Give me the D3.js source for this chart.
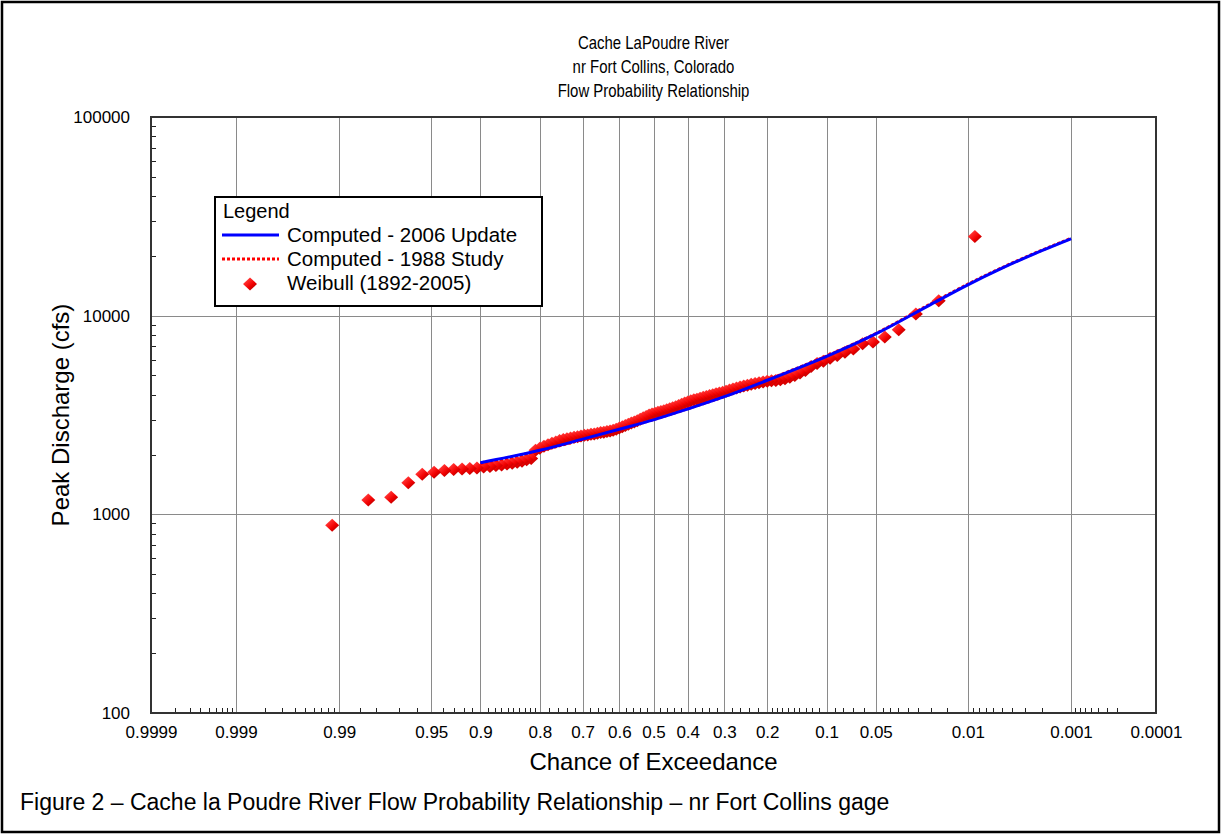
<!DOCTYPE html>
<html>
<head>
<meta charset="utf-8">
<script src="https://cdn.jsdelivr.net/npm/d3@7"></script>
<style>
  html, body { margin: 0; padding: 0; background: #fff; }
  svg { display: block; font-family: "Liberation Sans", Arial, sans-serif; }
</style>
</head>
<body>
<svg id="chart" width="1225" height="835"></svg>
<script>
// ---- data -------------------------------------------------------------
const titleLines = ["Cache LaPoudre River", "nr Fort Collins, Colorado", "Flow Probability Relationship"];
const caption = "Figure 2 \u2013 Cache la Poudre River Flow Probability Relationship \u2013 nr Fort Collins gage";

// chance-of-exceedance axis (normal probability paper)
const majorP = [0.9999, 0.999, 0.99, 0.95, 0.9, 0.8, 0.7, 0.6, 0.5, 0.4, 0.3, 0.2, 0.1, 0.05, 0.01, 0.001, 0.0001];
const majorLabels = ["0.9999", "0.999", "0.99", "0.95", "0.9", "0.8", "0.7", "0.6", "0.5", "0.4", "0.3", "0.2", "0.1", "0.05", "0.01", "0.001", "0.0001"];
const minorP = [
  0.9998, 0.9997, 0.9996, 0.9995, 0.9994, 0.9993, 0.9992, 0.9991,
  0.998, 0.997, 0.996, 0.995, 0.994, 0.993, 0.992, 0.991,
  0.985, 0.98, 0.97, 0.96,
  0.94, 0.93, 0.92, 0.91,
  0.89, 0.88, 0.87, 0.86, 0.85, 0.84, 0.83, 0.82, 0.81,
  0.78, 0.76, 0.74, 0.72, 0.68, 0.66, 0.64, 0.62, 0.58, 0.56, 0.54, 0.52,
  0.48, 0.46, 0.44, 0.42, 0.38, 0.36, 0.34, 0.32, 0.28, 0.26, 0.24, 0.22,
  0.19, 0.18, 0.17, 0.16, 0.15, 0.14, 0.13, 0.12, 0.11,
  0.09, 0.08, 0.07, 0.06,
  0.045, 0.04, 0.035, 0.03, 0.025, 0.02, 0.015,
  0.009, 0.008, 0.007, 0.006, 0.005, 0.004, 0.003, 0.002,
  0.0009, 0.0008, 0.0007, 0.0006, 0.0005, 0.0004, 0.0003
];

// peak discharge axis (cfs)
const yTicks = [100, 1000, 10000, 100000];
const yGrid = [1000, 10000];
const yMinor = [200, 300, 400, 500, 600, 700, 800, 900,
                2000, 3000, 4000, 5000, 6000, 7000, 8000, 9000,
                20000, 30000, 40000, 50000, 60000, 70000, 80000, 90000];

// computed frequency curves
const curveP = [0.9, 0.8, 0.7, 0.6, 0.5, 0.4, 0.3, 0.2, 0.1, 0.05, 0.02, 0.01, 0.005, 0.002, 0.001];
const update2006 = [1820, 2100, 2390, 2680, 2990, 3390, 3910, 4730, 6240, 8090, 11400, 14300, 17300, 21300, 24400];
const study1988 = [1800, 2090, 2380, 2680, 3000, 3400, 3920, 4750, 6270, 8130, 11500, 14400, 17400, 21400, 24500];

// annual peaks 1892-2005, ranked largest to smallest
const annualPeaks = [
  25000, 11900, 10200, 8500, 7800, 7360, 7230, 6800, 6550, 6300,
  6100, 5900, 5750, 5550, 5300, 5150, 5000, 4900, 4820, 4760,
  4720, 4700, 4680, 4640, 4600, 4560, 4520, 4470, 4420, 4370,
  4320, 4270, 4220, 4170, 4120, 4080, 4040, 4000, 3960, 3920,
  3880, 3840, 3800, 3770, 3730, 3680, 3630, 3580, 3530, 3480,
  3440, 3400, 3360, 3320, 3290, 3260, 3230, 3200, 3160, 3110,
  3060, 3010, 2960, 2920, 2880, 2840, 2800, 2760, 2720, 2680,
  2650, 2630, 2610, 2590, 2580, 2560, 2540, 2530, 2510, 2500,
  2480, 2460, 2440, 2420, 2400, 2380, 2350, 2310, 2280, 2240,
  2200, 2150, 2100, 1910, 1880, 1850, 1830, 1810, 1790, 1770,
  1760, 1740, 1730, 1710, 1700, 1690, 1680, 1660, 1630, 1590,
  1440, 1220, 1180, 880
];

const legendItems = ["Computed - 2006 Update", "Computed - 1988 Study", "Weibull (1892-2005)"];

// ---- helpers ----------------------------------------------------------
// inverse standard normal CDF (Acklam)
function probit(p) {
  const a = [-3.969683028665376e+01, 2.209460984245205e+02, -2.759285104469687e+02, 1.383577518672690e+02, -3.066479806614716e+01, 2.506628277459239e+00];
  const b = [-5.447609879822406e+01, 1.615858368580409e+02, -1.556989798598866e+02, 6.680131188771972e+01, -1.328068155288572e+01];
  const c = [-7.784894002430293e-03, -3.223964580411365e-01, -2.400758277161838e+00, -2.549732539343734e+00, 4.374664141464968e+00, 2.938163982698783e+00];
  const d = [7.784695709041462e-03, 3.224671290700398e-01, 2.445134137142996e+00, 3.754408661907416e+00];
  const pl = 0.02425;
  let q, r;
  if (p < pl) {
    q = Math.sqrt(-2 * Math.log(p));
    return (((((c[0]*q+c[1])*q+c[2])*q+c[3])*q+c[4])*q+c[5]) / ((((d[0]*q+d[1])*q+d[2])*q+d[3])*q+1);
  }
  if (p > 1 - pl) {
    q = Math.sqrt(-2 * Math.log(1 - p));
    return -(((((c[0]*q+c[1])*q+c[2])*q+c[3])*q+c[4])*q+c[5]) / ((((d[0]*q+d[1])*q+d[2])*q+d[3])*q+1);
  }
  q = p - 0.5; r = q * q;
  return (((((a[0]*r+a[1])*r+a[2])*r+a[3])*r+a[4])*r+a[5])*q / (((((b[0]*r+b[1])*r+b[2])*r+b[3])*r+b[4])*r+1);
}

// ---- layout -----------------------------------------------------------
const plot = { left: 151, right: 1156, top: 117, bottom: 713 };
const cx = (plot.left + plot.right) / 2;

const xq = d3.scaleLinear()
  .domain([probit(0.9999), probit(0.0001)])
  .range([plot.left, plot.right]);
const xP = p => xq(probit(p));

const y = d3.scaleLog()
  .domain([100, 100000])
  .range([plot.bottom, plot.top]);

const svg = d3.select("#chart");

// diamond shading
const defs = svg.append("defs");
const grad = defs.append("linearGradient")
  .attr("id", "diamondShade")
  .attr("x1", "0").attr("y1", "0").attr("x2", "1").attr("y2", "1");
grad.append("stop").attr("offset", "0").attr("stop-color", "#ff8a8a");
grad.append("stop").attr("offset", "0.3").attr("stop-color", "#ff2a2a");
grad.append("stop").attr("offset", "0.6").attr("stop-color", "#f00000");
grad.append("stop").attr("offset", "1").attr("stop-color", "#8c0000");

const diamondPath = "M0,-6.5L7,0L0,6.5L-7,0Z";

// outer figure border
svg.append("rect")
  .attr("x", 2).attr("y", 2)
  .attr("width", 1217).attr("height", 830)
  .attr("fill", "none").attr("stroke", "#000").attr("stroke-width", 2.5);

// title (condensed face)
svg.append("g").selectAll("text")
  .data(titleLines)
  .join("text")
  .attr("transform", (d, i) => `translate(${cx},${49 + i * 24}) scale(0.83,1)`)
  .attr("text-anchor", "middle")
  .attr("font-size", 18)
  .attr("fill", "#000")
  .text(d => d);

// gridlines
const grid = svg.append("g").attr("stroke", "#8a8a8a").attr("stroke-width", 1);
grid.selectAll("line.v")
  .data(majorP.slice(1, -1))
  .join("line")
  .attr("class", "v")
  .attr("x1", d => Math.round(xP(d)) + 0.5).attr("x2", d => Math.round(xP(d)) + 0.5)
  .attr("y1", plot.top).attr("y2", plot.bottom);
grid.selectAll("line.h")
  .data(yGrid)
  .join("line")
  .attr("class", "h")
  .attr("x1", plot.left).attr("x2", plot.right)
  .attr("y1", d => Math.round(y(d)) + 0.5).attr("y2", d => Math.round(y(d)) + 0.5);

// minor ticks
const minor = svg.append("g").attr("stroke", "#222").attr("stroke-width", 1);
minor.selectAll("line.mx")
  .data(minorP)
  .join("line")
  .attr("class", "mx")
  .attr("x1", d => Math.round(xP(d)) + 0.5).attr("x2", d => Math.round(xP(d)) + 0.5)
  .attr("y1", plot.bottom).attr("y2", plot.bottom - 5);
minor.selectAll("line.my")
  .data(yMinor)
  .join("line")
  .attr("class", "my")
  .attr("x1", plot.left).attr("x2", plot.left + 5)
  .attr("y1", d => Math.round(y(d)) + 0.5).attr("y2", d => Math.round(y(d)) + 0.5);

// axes labels
const xAxis = d3.axisBottom(xq)
  .tickValues(majorP.map(probit))
  .tickFormat((d, i) => majorLabels[i])
  .tickSize(0)
  .tickPadding(13);
const gx = svg.append("g")
  .attr("transform", `translate(0,${plot.bottom})`)
  .call(xAxis);
gx.select(".domain").remove();
gx.selectAll("text").attr("font-size", 17).attr("font-family", "Liberation Sans, Arial, sans-serif").attr("fill", "#000");

const yAxis = d3.axisLeft(y)
  .tickValues(yTicks)
  .tickFormat(d3.format("d"))
  .tickSize(0)
  .tickPadding(21);
const gy = svg.append("g")
  .attr("transform", `translate(${plot.left},0)`)
  .call(yAxis);
gy.select(".domain").remove();
gy.selectAll("text").attr("font-size", 17).attr("font-family", "Liberation Sans, Arial, sans-serif").attr("fill", "#000");

// Weibull plotting positions
const n = annualPeaks.length;
const peaks = annualPeaks.map((v, i) => ({ p: (i + 1) / (n + 1), v }));

svg.append("g").selectAll("path")
  .data(peaks)
  .join("path")
  .attr("d", diamondPath)
  .attr("transform", d => `translate(${xP(d.p)},${y(d.v)})`)
  .attr("fill", "url(#diamondShade)");

// computed curves
const line = d3.line()
  .x(d => xP(d.p))
  .y(d => y(d.v))
  .curve(d3.curveMonotoneX);

svg.append("path")
  .datum(curveP.map((p, i) => ({ p, v: study1988[i] })))
  .attr("d", line)
  .attr("fill", "none")
  .attr("stroke", "#ff0000")
  .attr("stroke-width", 3)
  .attr("stroke-dasharray", "3,2");

svg.append("path")
  .datum(curveP.map((p, i) => ({ p, v: update2006[i] })))
  .attr("d", line)
  .attr("fill", "none")
  .attr("stroke", "#0000ff")
  .attr("stroke-width", 3);

// plot frame
svg.append("rect")
  .attr("x", plot.left).attr("y", plot.top)
  .attr("width", plot.right - plot.left).attr("height", plot.bottom - plot.top)
  .attr("fill", "none").attr("stroke", "#333").attr("stroke-width", 2);

// axis titles
svg.append("text")
  .attr("x", cx)
  .attr("y", 770)
  .attr("text-anchor", "middle")
  .attr("font-size", 24)
  .text("Chance of Exceedance");

svg.append("text")
  .attr("transform", `translate(69,${(plot.top + plot.bottom) / 2}) rotate(-90)`)
  .attr("text-anchor", "middle")
  .attr("font-size", 24)
  .text("Peak Discharge (cfs)");

// legend
const lg = svg.append("g");
lg.append("rect")
  .attr("x", 215).attr("y", 197)
  .attr("width", 327).attr("height", 109)
  .attr("fill", "#fff").attr("stroke", "#000").attr("stroke-width", 2);
lg.append("text").attr("x", 223).attr("y", 218).attr("font-size", 20).text("Legend");
lg.selectAll("text.item")
  .data(legendItems)
  .join("text")
  .attr("class", "item")
  .attr("x", 287)
  .attr("y", (d, i) => 242 + i * 24)
  .attr("font-size", 20.5)
  .text(d => d);
lg.append("line")
  .attr("x1", 222).attr("x2", 279).attr("y1", 235).attr("y2", 235)
  .attr("stroke", "#0000ff").attr("stroke-width", 3);
lg.append("line")
  .attr("x1", 222).attr("x2", 279).attr("y1", 259).attr("y2", 259)
  .attr("stroke", "#ff0000").attr("stroke-width", 3).attr("stroke-dasharray", "3,2");
lg.append("path")
  .attr("d", diamondPath)
  .attr("transform", "translate(250,284)")
  .attr("fill", "url(#diamondShade)");

// figure caption
svg.append("text")
  .attr("x", 20)
  .attr("y", 810)
  .attr("font-size", 23)
  .text(caption);
</script>
</body>
</html>
